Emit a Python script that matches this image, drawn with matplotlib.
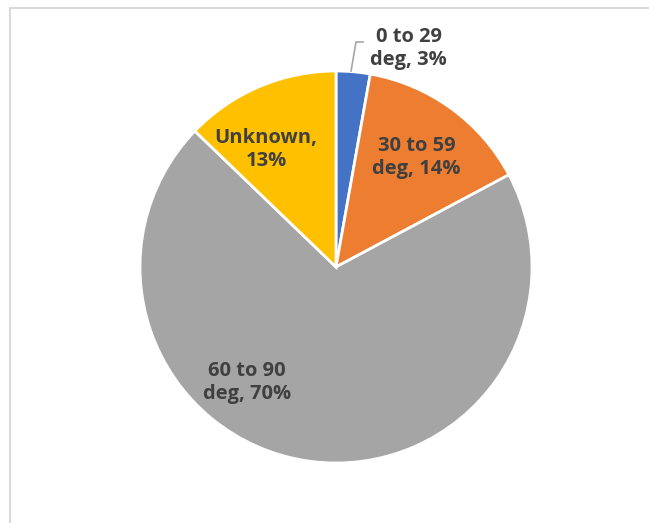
import matplotlib.pyplot as plt
from matplotlib.lines import Line2D

# Share of readings by angle range
categories = ['0 to 29\ndeg', '30 to 59\ndeg', '60 to 90\ndeg', 'Unknown']
shares = [2.8, 14.4, 70.0, 12.8]
colors = ['#4472C4', '#ED7D31', '#A5A5A5', '#FFC000']

W, H = 649, 523
fig = plt.figure(figsize=(W / 100, H / 100), dpi=100)
ax = fig.add_axes([140 / W, 60 / H, 392 / W, 392 / H])

wedges, _ = ax.pie(shares, colors=colors, startangle=90, counterclock=False,
                   radius=1.0, wedgeprops=dict(edgecolor='white', linewidth=2))
ax.set_xlim(-1, 1)
ax.set_ylim(-1, 1)
ax.set_aspect('equal')
ax.axis('off')

# label positions (relative to pie radius)
label_pos = [(0.37, 1.117), (0.41, 0.56), (-0.454, -0.587), (-0.357, 0.597)]
for cat, val, (x, y) in zip(categories, shares, label_pos):
    if cat == 'Unknown':
        txt = f'{cat},\n{val:.0f}%'
    else:
        txt = f'{cat}, {val:.0f}%'
    ax.text(x, y, txt, ha='center', va='center', fontsize=14.5, fontweight='bold',
            color='#404040', family='Open Sans', linespacing=1.2, clip_on=False)

# leader line for the small slice
ax.plot([0.077, 0.102, 0.138], [1.0, 1.148, 1.148], color='#A6A6A6', lw=1.2,
        clip_on=False, solid_joinstyle='miter')

# chart area border (top and left edges)
fig.add_artist(Line2D([10 / W, 10 / W, 1.0], [0.0, 1 - 8 / H, 1 - 8 / H],
                      transform=fig.transFigure, color='#D9D9D9', lw=1.5))

fig.savefig('out.png', dpi=100)
